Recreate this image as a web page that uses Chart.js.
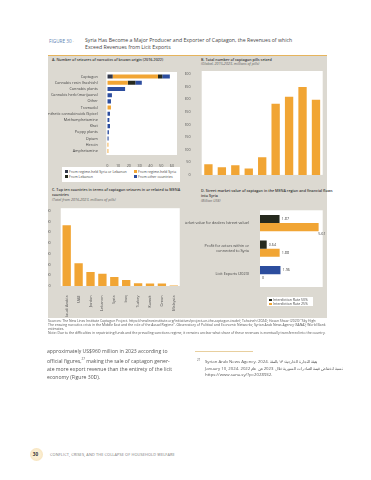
<!DOCTYPE html>
<html>
<head>
<meta charset="utf-8">
<script src="https://cdn.jsdelivr.net/npm/chart.js@4.4.1/dist/chart.umd.min.js"></script>
<style>
body { margin: 0; background: #fff; font-family: 'Open Sans', sans-serif; }
#page { position: relative; width: 371px; height: 480px; overflow: hidden; }
.abs { position: absolute; white-space: nowrap; }
canvas { position: absolute; }
.ptitle { font-size: 3.7px; line-height: 4.6px; color: #333; font-weight: 600; }
.psub { font-style: italic; font-weight: 400; color: #666; }
.lg { position: absolute; background: #fff; font-size: 3.5px; color: #444; }
.lg span.sq { display: inline-block; width: 2.6px; height: 2.6px; margin-right: 1.5px; vertical-align: -0.3px; }
</style>
</head>
<body>
<div id="page">

<div class="abs" style="left:49px;top:37.6px;font-size:4.7px;line-height:6px;color:#5d7fb3">FIGURE 30 <span style="color:#d9a441">·</span></div>
<div class="abs" style="left:85px;top:37.2px;font-size:5.2px;line-height:6.8px;color:#444">Syria Has Become a Major Producer and Exporter of Captagon, the Revenues of which<br>Exceed Revenues from Licit Exports</div>

<div class="abs" style="left:48px;top:54.5px;width:279px;height:262px;background:#dcd9d1;border-top:1.5px solid #e6b45c"></div>

<div class="abs ptitle" style="left:52px;top:58.4px">A. Number of seizures of narcotics of known origin (2016-2022)</div>
<div class="abs ptitle" style="left:201px;top:57.6px">B. Total number of captagon pills seized<br><span class="psub">(Global, 2015-2023, millions of pills)</span></div>
<div class="abs ptitle" style="left:52px;top:188.4px">C. Top ten countries in terms of captagon seizures in or related to MENA<br>countries<br><span class="psub">(Total from 2016-2023, millions of pills)</span></div>
<div class="abs ptitle" style="left:201px;top:189.4px">D. Street market value of captagon in the MENA region and financial flows<br>into Syria<br><span class="psub">(Billion US$)</span></div>

<canvas id="chartA" width="134" height="99" style="left:48px;top:68px"></canvas>
<canvas id="chartB" width="142" height="116" style="left:185px;top:68px"></canvas>
<canvas id="chartC" width="135" height="112" style="left:48px;top:205px"></canvas>
<canvas id="chartD" width="142" height="92" style="left:185px;top:205px"></canvas>

<div class="lg" id="legendA" style="left:62px;top:166.5px;width:118px;height:15px"></div>
<div class="lg" id="legendD" style="left:267px;top:296.5px;width:46px;height:9px"></div>

<div class="abs" style="left:48px;top:318.5px;font-size:3.4px;line-height:4.1px;color:#555">Sources: The New Lines Institute Captagon Project. https://newlinesinstitute.org/initiatives/project-on-the-captagon-trade/; Tahaineh (2024); Hasan Shaar (2023) "Sky High:<br>The ensuing narcotics crisis in the Middle East and the role of the Assad Regime". Observatory of Political and Economic Networks; Syrian Arab News Agency (SANA); World Bank<br>estimates.<br>Note: Due to the difficulties in repatriating funds and the prevailing sanctions regime, it remains unclear what share of these revenues is eventually transferred into the country.</div>

<div class="abs" style="left:47px;top:347px;font-size:5.1px;line-height:8px;color:#555">approximately US$960 million in 2023 according to<br>official figures,<sup style="font-size:3px">27</sup> making the sale of captagon gener-<br>ate more export revenue than the entirety of the licit<br>economy (Figure 30D).</div>

<div class="abs" style="left:195px;top:351px;width:58px;height:0.6px;background:#e8cf9e"></div>
<div class="abs" style="left:197px;top:357.5px;font-size:2.8px;color:#555">27</div>
<div class="abs" style="left:205px;top:358px;font-size:4.3px;line-height:6.6px;color:#555">Syrian Arab News Agency. 2024. <span dir="rtl">هيئة التجارة الخارجية: ١٣ بالمئة</span><br>January 10, 2024. <span dir="rtl">نسبة انخفاض قيمة الصادرات السورية خلال 2023 عن عام 2022</span><br>https://www.sana.sy/?p=2028932.</div>

<div class="abs" style="left:30px;top:447.5px;width:13px;height:13px;border-radius:50%;background:radial-gradient(circle,#fbeed3 40%,#f3dcae 100%)"></div>
<div class="abs" style="left:32.8px;top:451.3px;font-size:4.6px;font-weight:700;color:#333">30</div>
<div class="abs" style="left:50px;top:451.6px;font-size:3.9px;color:#7a7a7a;letter-spacing:0.1px">CONFLICT, CRISES, AND THE COLLAPSE OF HOUSEHOLD WELFARE</div>

</div>

<script>
// A. seizures of narcotics by known origin (2016-2022)
var drugs = ['Captagon', 'Cannabis resin (hashish)', 'Cannabis plants', 'Cannabis herb (marijuana)', 'Other', 'Tramadol',
    'Synthetic cannabinoids (Spice)', 'Methamphetamine', 'Khat', 'Poppy plants', 'Opium', 'Heroin', 'Amphetamine'];
var fromSyriaOrLebanon = [5, 0, 0, 0, 0, 0, 0, 0, 0, 0, 0, 0, 0];
var fromSyria = [42, 19, 0, 0, 0, 3.4, 0, 0, 0, 0, 0, 1, 1];
var fromLebanon = [4, 7, 0, 0, 0, 0, 0, 0, 0, 0, 0, 0, 0];
var fromOther = [7, 6, 16.5, 4.3, 3.4, 0, 2.5, 1.9, 2.5, 1.5, 1.2, 0, 0];
var seizureTicks = [0, 10, 20, 30, 40, 50, 60];

// B. captagon pills seized, millions
var years = ['2015', '2016', '2017', '2018', '2019', '2020', '2021', '2022', '2023'];
var pillsSeized = [42, 30, 38, 25, 70, 282, 310, 348, 298];

// C. top ten countries, millions of pills
var countries = ['Saudi Arabia', 'UAE', 'Jordan', 'Lebanon', 'Syria', 'Iraq', 'Turkey', 'Kuwait', 'Oman', 'Malaysia'];
var countryPills = [564, 211, 130, 115, 84, 56, 25, 24, 24, 5];

// D. street value and flows, billion US$
var flowCats = [['Market value for dealers (street value)'], ['Profit for actors within or', 'connected to Syria'], ['Licit Exports (2023)']];
var rate50 = [1.87, 0.64, 1.96];
var rate25 = [5.61, 1.88, 0];

var ORANGE = '#f1a534';
var BLUE = '#2c4d9e';
var DARK = '#262a1e';
var NAVY = '#33384a';
var FONT = "'Open Sans', sans-serif";

function fixW(w) { return function(scale) { scale.width = w; }; }
function fixH(h) { return function(scale) { scale.height = h; }; }

var plotBg = {
    id: 'plotBg',
    beforeDraw: function(chart, args, opts) {
        var a = chart.chartArea;
        var p = opts.pad || [0, 0, 0, 0];
        var ctx = chart.ctx;
        ctx.save();
        ctx.fillStyle = '#fff';
        ctx.fillRect(a.left - p[3], a.top - p[0], a.right - a.left + p[1] + p[3], a.bottom - a.top + p[0] + p[2]);
        ctx.restore();
    }
};

var barLabels = {
    id: 'barLabels',
    afterDatasetsDraw: function(chart) {
        var ctx = chart.ctx;
        var a = chart.chartArea;
        ctx.save();
        ctx.font = '3.8px ' + FONT;
        ctx.fillStyle = '#444';
        ctx.textBaseline = 'middle';
        chart.data.datasets.forEach(function(ds, i) {
            chart.getDatasetMeta(i).data.forEach(function(bar, j) {
                var v = ds.data[j];
                var txt = v === 0 ? '0' : v.toFixed(2);
                var x = bar.x + 2, y = bar.y;
                ctx.textAlign = 'left';
                if (x + ctx.measureText(txt).width > a.right) {
                    x = a.right + 3; y = bar.y + 7; ctx.textAlign = 'right';
                }
                ctx.fillText(txt, x, y);
            });
        });
        ctx.restore();
    }
};

function tickFont() { return { family: FONT, size: 3.8 }; }

function baseOptions() {
    return {
        responsive: false,
        animation: false,
        devicePixelRatio: 1,
        plugins: { legend: { display: false }, tooltip: { enabled: false } }
    };
}

// chart A
var optA = baseOptions();
optA.indexAxis = 'y';
optA.layout = { padding: { top: 5.5, right: 10, left: 0, bottom: 0 } };
optA.plugins.plotBg = { pad: [1.5, 5, 1, 1] };
optA.scales = {
    x: {
        stacked: true, min: 0, max: 60,
        afterBuildTicks: function(s) { s.ticks = seizureTicks.map(function(v) { return { value: v }; }); },
        grid: { display: false }, border: { display: false },
        ticks: { font: tickFont(), color: '#555', padding: 2 },
        afterFit: fixH(13)
    },
    y: {
        stacked: true,
        grid: { display: false }, border: { display: false },
        ticks: { font: tickFont(), color: '#444', padding: 1.5, autoSkip: false },
        afterFit: fixW(59.3)
    }
};
var seriesA = [
    ['From regime-held Syria or Lebanon', fromSyriaOrLebanon, NAVY],
    ['From regime-held Syria', fromSyria, ORANGE],
    ['From Lebanon', fromLebanon, DARK],
    ['From other countries', fromOther, BLUE]
];
new Chart(document.getElementById('chartA'), {
    type: 'bar',
    data: {
        labels: drugs,
        datasets: seriesA.map(function(s) {
            return { label: s[0], data: s[1], backgroundColor: s[2], categoryPercentage: 0.65, barPercentage: 1 };
        })
    },
    options: optA,
    plugins: [plotBg]
});

// chart B
var optB = baseOptions();
optB.layout = { padding: { top: 6, right: 4.3, left: 0, bottom: 0 } };
optB.plugins.plotBg = { pad: [3, 0, 0, 0] };
optB.scales = {
    x: {
        grid: { display: false }, border: { display: false },
        ticks: { font: tickFont(), color: '#555', padding: 1.5, maxRotation: 0 },
        afterFit: fixH(9.1)
    },
    y: {
        min: 0, max: 400,
        grid: { display: false }, border: { display: false },
        ticks: { font: tickFont(), color: '#555', padding: 3, stepSize: 50 },
        afterFit: fixW(16.7)
    }
};
new Chart(document.getElementById('chartB'), {
    type: 'bar',
    data: {
        labels: years,
        datasets: [{ label: 'Captagon pills seized', data: pillsSeized, backgroundColor: ORANGE, categoryPercentage: 0.62, barPercentage: 1 }]
    },
    options: optB,
    plugins: [plotBg]
});

// chart C
var optC = baseOptions();
optC.layout = { padding: { top: 5.7, right: 3.25, left: 0, bottom: 0 } };
optC.plugins.plotBg = { pad: [2.5, 0, 0, 0] };
optC.scales = {
    x: {
        grid: { display: false }, border: { display: false },
        ticks: { font: tickFont(), color: '#555', padding: 1.5, minRotation: 90, maxRotation: 90, autoSkip: false },
        afterFit: fixH(31)
    },
    y: {
        min: 0, max: 700,
        grid: { display: false }, border: { display: false },
        ticks: { font: tickFont(), color: '#555', padding: 2, stepSize: 100 },
        afterFit: fixW(12.75)
    }
};
new Chart(document.getElementById('chartC'), {
    type: 'bar',
    data: {
        labels: countries,
        datasets: [{ label: 'Captagon seizures', data: countryPills, backgroundColor: ORANGE, categoryPercentage: 0.7, barPercentage: 1 }]
    },
    options: optC,
    plugins: [plotBg]
});

// chart D
var optD = baseOptions();
optD.indexAxis = 'y';
optD.layout = { padding: { top: 4, right: 4.3, left: 0, bottom: 0 } };
optD.scales = {
    x: {
        min: 0, max: 6,
        grid: { display: false }, border: { display: false },
        ticks: { font: tickFont(), color: '#555', padding: 2, stepSize: 2 },
        afterFit: fixH(10)
    },
    y: {
        grid: { display: false }, border: { display: false },
        ticks: { font: tickFont(), color: '#444', padding: 3, autoSkip: false },
        afterFit: fixW(75)
    }
};
new Chart(document.getElementById('chartD'), {
    type: 'bar',
    data: {
        labels: flowCats,
        datasets: [
            { label: 'Interdiction Rate 50%', data: rate50, backgroundColor: [DARK, DARK, BLUE], categoryPercentage: 0.64, barPercentage: 1 },
            { label: 'Interdiction Rate 25%', data: rate25, backgroundColor: ORANGE, categoryPercentage: 0.64, barPercentage: 1 }
        ]
    },
    options: optD,
    plugins: [plotBg, barLabels]
});

// html legends
function legendItem(color, text, x, y) {
    return '<div style="position:absolute;left:' + x + 'px;top:' + y + 'px;white-space:nowrap"><span class="sq" style="background:' + color + '"></span>' + text + '</div>';
}
document.getElementById('legendA').innerHTML =
    legendItem(NAVY, seriesA[0][0], 3, 2) + legendItem(ORANGE, seriesA[1][0], 72, 2) +
    legendItem(DARK, seriesA[2][0], 3, 7) + legendItem(BLUE, seriesA[3][0], 72, 7);
document.getElementById('legendD').innerHTML =
    legendItem(DARK, 'Interdiction Rate 50%', 2, 0.5) + legendItem(ORANGE, 'Interdiction Rate 25%', 2, 4.3);
</script>
</body>
</html>
